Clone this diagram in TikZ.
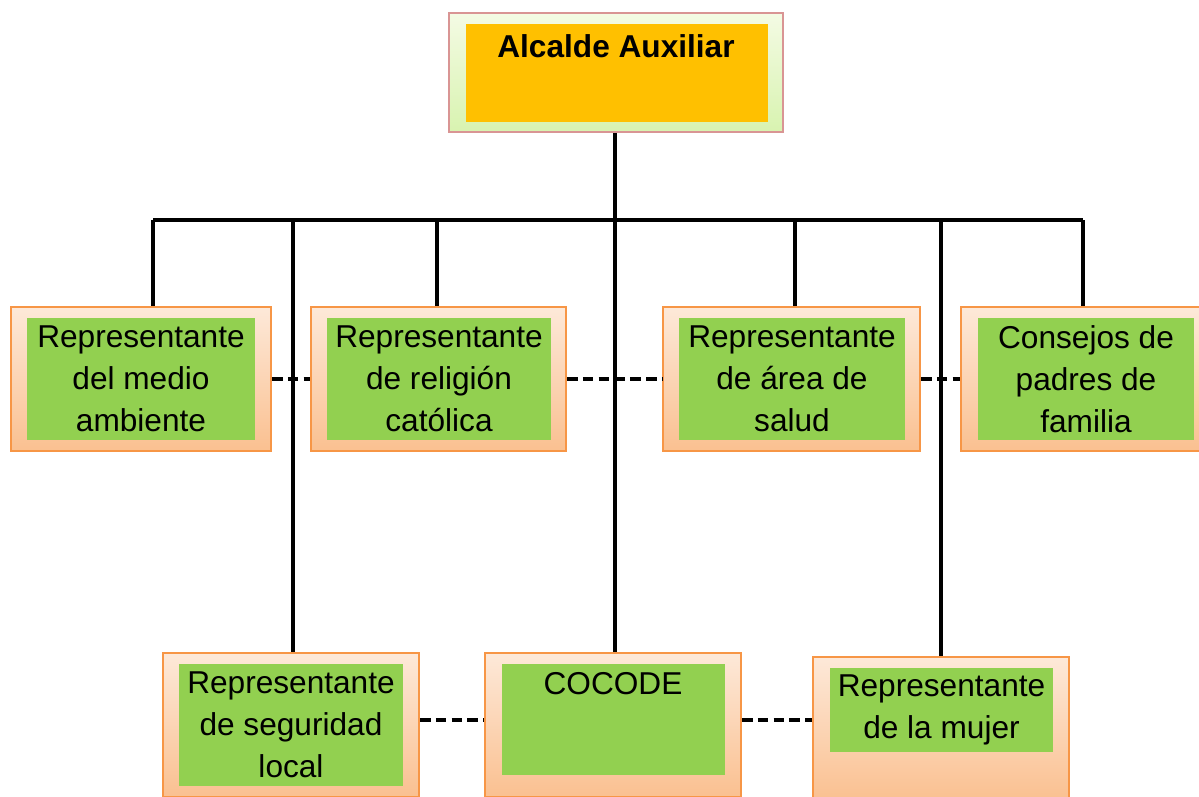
\documentclass[tikz,border=0pt]{standalone}
\usepackage{fontspec}
\setmainfont{Liberation Sans}
\usetikzlibrary{positioning}

\definecolor{boxedge}{HTML}{F79646}
\definecolor{boxtop}{HTML}{FDE9D9}
\definecolor{boxbot}{HTML}{FAC090}
\definecolor{leaf}{HTML}{92D050}
\definecolor{headedge}{HTML}{D99594}
\definecolor{headtop}{HTML}{F4FBE4}
\definecolor{headbot}{HTML}{D8F3B0}
\definecolor{gold}{HTML}{FFC000}

\tikzset{
  outerbox/.style={draw=boxedge,line width=1.2pt,top color=boxtop,bottom color=boxbot,
    minimum width=5.12cm,minimum height=2.88cm,inner sep=0pt},
  innerbox/.style={fill=leaf,minimum width=4.46cm,minimum height=2.44cm,inner sep=0pt,
    align=center,font=\fontsize{18}{23.9}\selectfont},
  conn/.style={line width=2.1pt},
  dashlink/.style={line width=2.1pt,dash pattern=on 6pt off 3pt}
}

\begin{document}
\begin{tikzpicture}[x=0.02cm,y=-0.02cm]
  \useasboundingbox (0,0) rectangle (1199,796);
  \clip (0,0) rectangle (1199,796);

  % head
  \node[draw=headedge,line width=1.2pt,top color=headtop,bottom color=headbot,
    minimum width=6.68cm,minimum height=2.38cm,inner sep=0pt] (alcalde) at (616,72.5) {};
  \node[fill=gold,minimum width=6.04cm,minimum height=1.96cm,inner sep=0pt] (alcaldeIn) at (617,73) {};
  \node[font=\fontsize{18}{23.9}\selectfont\bfseries] (alcaldeTxt) at (616,46) {Alcalde Auxiliar};

  % first row
  \node[outerbox,minimum width=5.2cm] (medio) at (141,379) {};
  \node[innerbox,minimum width=4.56cm] (medioIn) at (141,379) {Representante\\del medio\\ambiente};
  \node[outerbox,minimum width=5.1cm] (religion) at (438.5,379) {};
  \node[innerbox,minimum width=4.48cm] (religionIn) at (439,379) {Representante\\de religión\\católica};
  \node[outerbox,minimum width=5.14cm] (salud) at (791.5,379) {};
  \node[innerbox,minimum width=4.52cm] (saludIn) at (792,379) {Representante\\de área de\\salud};
  \node[outerbox] (consejos) at (1089,379) {};
  \node[innerbox,minimum width=4.32cm] (consejosIn) at (1086,379) {Consejos de\\padres de\\familia};

  % second row
  \node[outerbox] (seguridad) at (291,725) {};
  \node[innerbox,minimum width=4.48cm] (seguridadIn) at (291,725) {Representante\\de seguridad\\local};
  \node[outerbox] (cocode) at (613,725) {};
  \node[innerbox,minimum height=2.22cm] (cocodeIn) at (613.5,719.5) {};
  \node[font=\fontsize{18}{23.9}\selectfont] (cocodeTxt) at (613,684) {COCODE};
  \node[outerbox] (mujer) at (941,729) {};
  \node[innerbox,minimum height=1.68cm] (mujerIn) at (941.5,710) {Representante\\de la mujer};

  % lines
  \coordinate (bar) at (615,220);
  \coordinate (dashrow) at (0,720);
  \draw[conn] ([xshift=.04cm]cocode.north |- alcalde.south) -- ([xshift=.04cm]cocode.north);
  \draw[conn] ([xshift=.24cm]medio.north |- bar) -- ([xshift=-.12cm]consejos.north |- bar);
  \foreach \n/\s in {medio/12,religion/-1.5,salud/3.5,consejos/-6,seguridad/2,mujer/0}
    \draw[conn] ([xshift=\s*0.02cm]\n.north) -- ([xshift=\s*0.02cm]\n.north |- bar);

  \draw[dashlink] (medio.east) -- (religion.west);
  \draw[dashlink] (religion.east) -- (salud.west);
  \draw[dashlink] (salud.east) -- (consejos.west);
  \draw[dashlink] (seguridad.east |- dashrow) -- (cocode.west |- dashrow);
  \draw[dashlink] (cocode.east |- dashrow) -- (mujer.west |- dashrow);
\end{tikzpicture}
\end{document}
